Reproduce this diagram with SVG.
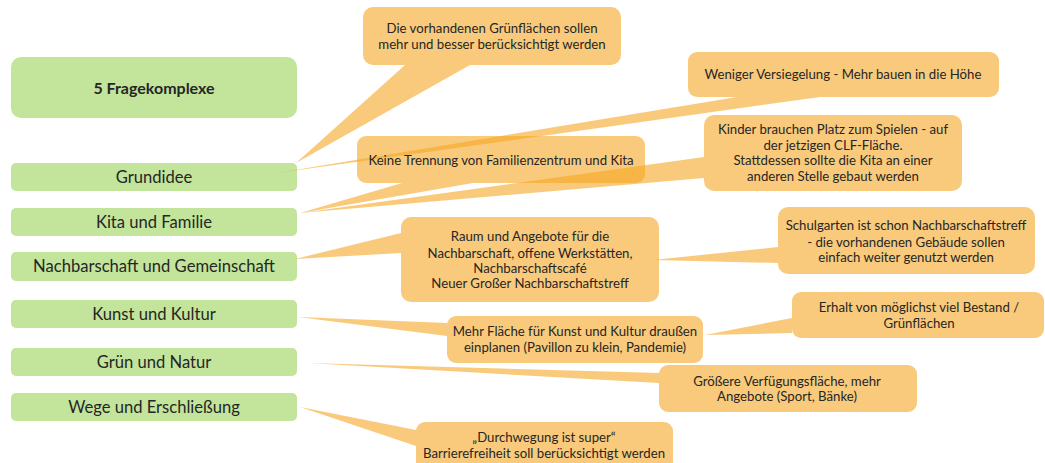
<svg xmlns="http://www.w3.org/2000/svg" width="1045" height="463" viewBox="0 0 1045 463">
<style>
.g{fill:#C2E49B}
.o{fill:#F5A623;fill-opacity:0.6}
text{font-family:Lato,"Liberation Sans",sans-serif;fill:#262626;text-anchor:middle;dominant-baseline:central}
.lbl{font-size:16.6px}
.t{font-size:13.2px}
.title{font-size:16px;font-weight:bold}
</style>
<rect width="1045" height="463" fill="#fff"/>
<g id="n-title"><rect class="g" x="11" y="57" width="286" height="61" rx="10"/><text class="title" x="154" y="87">5 Fragekomplexe</text></g>
<g id="n-grundidee"><rect class="g" x="11" y="163" width="286" height="28" rx="5"/><text class="lbl" x="154" y="176.5">Grundidee</text></g>
<g id="n-kita"><rect class="g" x="11" y="208" width="286" height="28" rx="5"/><text class="lbl" x="154" y="221.5">Kita und Familie</text></g>
<g id="n-nachbar"><rect class="g" x="11" y="252" width="286" height="29" rx="5"/><text class="lbl" x="154" y="266">Nachbarschaft und Gemeinschaft</text></g>
<g id="n-kunst"><rect class="g" x="11" y="300" width="286" height="28" rx="5"/><text class="lbl" x="154" y="313.5">Kunst und Kultur</text></g>
<g id="n-gruen"><rect class="g" x="11" y="348" width="286" height="28" rx="5"/><text class="lbl" x="154" y="361.5">Grün und Natur</text></g>
<g id="n-wege"><rect class="g" x="11" y="393" width="286" height="28" rx="5"/><text class="lbl" x="154" y="406.5">Wege und Erschließung</text></g>
<g id="connectors">
<polygon class="o" points="296,163 405,65 470,65"/>
<polygon class="o" points="277,173 737,97 820,97"/>
<polygon class="o" points="300,213 402,183 473,183"/>
<polygon class="o" points="300,213 704,157 704,178"/>
<polygon class="o" points="295,259 401,233 401,253"/>
<polygon class="o" points="653,260 778,247 778,263"/>
<polygon class="o" points="298,317 447,323 447,336"/>
<polygon class="o" points="705,335 792,318 792,333"/>
<polygon class="o" points="307,363 659,373 659,383"/>
<polygon class="o" points="300,407 416,430 416,446"/>
</g>
<g id="c1"><rect class="o" x="363" y="7" width="258" height="58" rx="10"/><text class="t" x="492" y="28">Die vorhandenen Grünflächen sollen</text><text class="t" x="492" y="44">mehr und besser berücksichtigt werden</text></g>
<g id="c2"><rect class="o" x="688" y="52" width="311" height="45" rx="9"/><text class="t" x="843" y="74">Weniger Versiegelung - Mehr bauen in die Höhe</text></g>
<g id="c3"><rect class="o" x="357" y="136" width="288" height="47" rx="9"/><text class="t" x="501" y="160">Keine Trennung von Familienzentrum und Kita</text></g>
<g id="c4"><rect class="o" x="704" y="115" width="258" height="76" rx="10"/><text class="t" x="833" y="129">Kinder brauchen Platz zum Spielen - auf</text><text class="t" x="833" y="145">der jetzigen CLF-Fläche.</text><text class="t" x="833" y="160">Stattdessen sollte die Kita an einer</text><text class="t" x="833" y="176">anderen Stelle gebaut werden</text></g>
<g id="c5"><rect class="o" x="401" y="217" width="258" height="85" rx="10"/><text class="t" x="530" y="236">Raum und Angebote für die</text><text class="t" x="530" y="253">Nachbarschaft, offene Werkstätten,</text><text class="t" x="530" y="268">Nachbarschaftscafé</text><text class="t" x="530" y="283">Neuer Großer Nachbarschaftstreff</text></g>
<g id="c6"><rect class="o" x="778" y="207" width="257" height="67" rx="10"/><text class="t" x="906" y="225">Schulgarten ist schon Nachbarschaftstreff</text><text class="t" x="906" y="242">- die vorhandenen Gebäude sollen</text><text class="t" x="906" y="257">einfach weiter genutzt werden</text></g>
<g id="c7"><rect class="o" x="447" y="316" width="256" height="47" rx="9"/><text class="t" x="575" y="331">Mehr Fläche für Kunst und Kultur draußen</text><text class="t" x="575" y="347">einplanen (Pavillon zu klein, Pandemie)</text></g>
<g id="c8"><rect class="o" x="792" y="292" width="252" height="46" rx="9"/><text class="t" x="919" y="307">Erhalt von möglichst viel Bestand /</text><text class="t" x="919" y="323">Grünflächen</text></g>
<g id="c9"><rect class="o" x="659" y="365" width="258" height="47" rx="9"/><text class="t" x="787" y="381">Größere Verfügungsfläche, mehr</text><text class="t" x="787" y="396">Angebote (Sport, Bänke)</text></g>
<g id="c10"><rect class="o" x="416" y="422" width="257" height="60" rx="9"/><text class="t" x="544" y="437">„Durchwegung ist super“</text><text class="t" x="544" y="453">Barrierefreiheit soll berücksichtigt werden</text></g>
</svg>
